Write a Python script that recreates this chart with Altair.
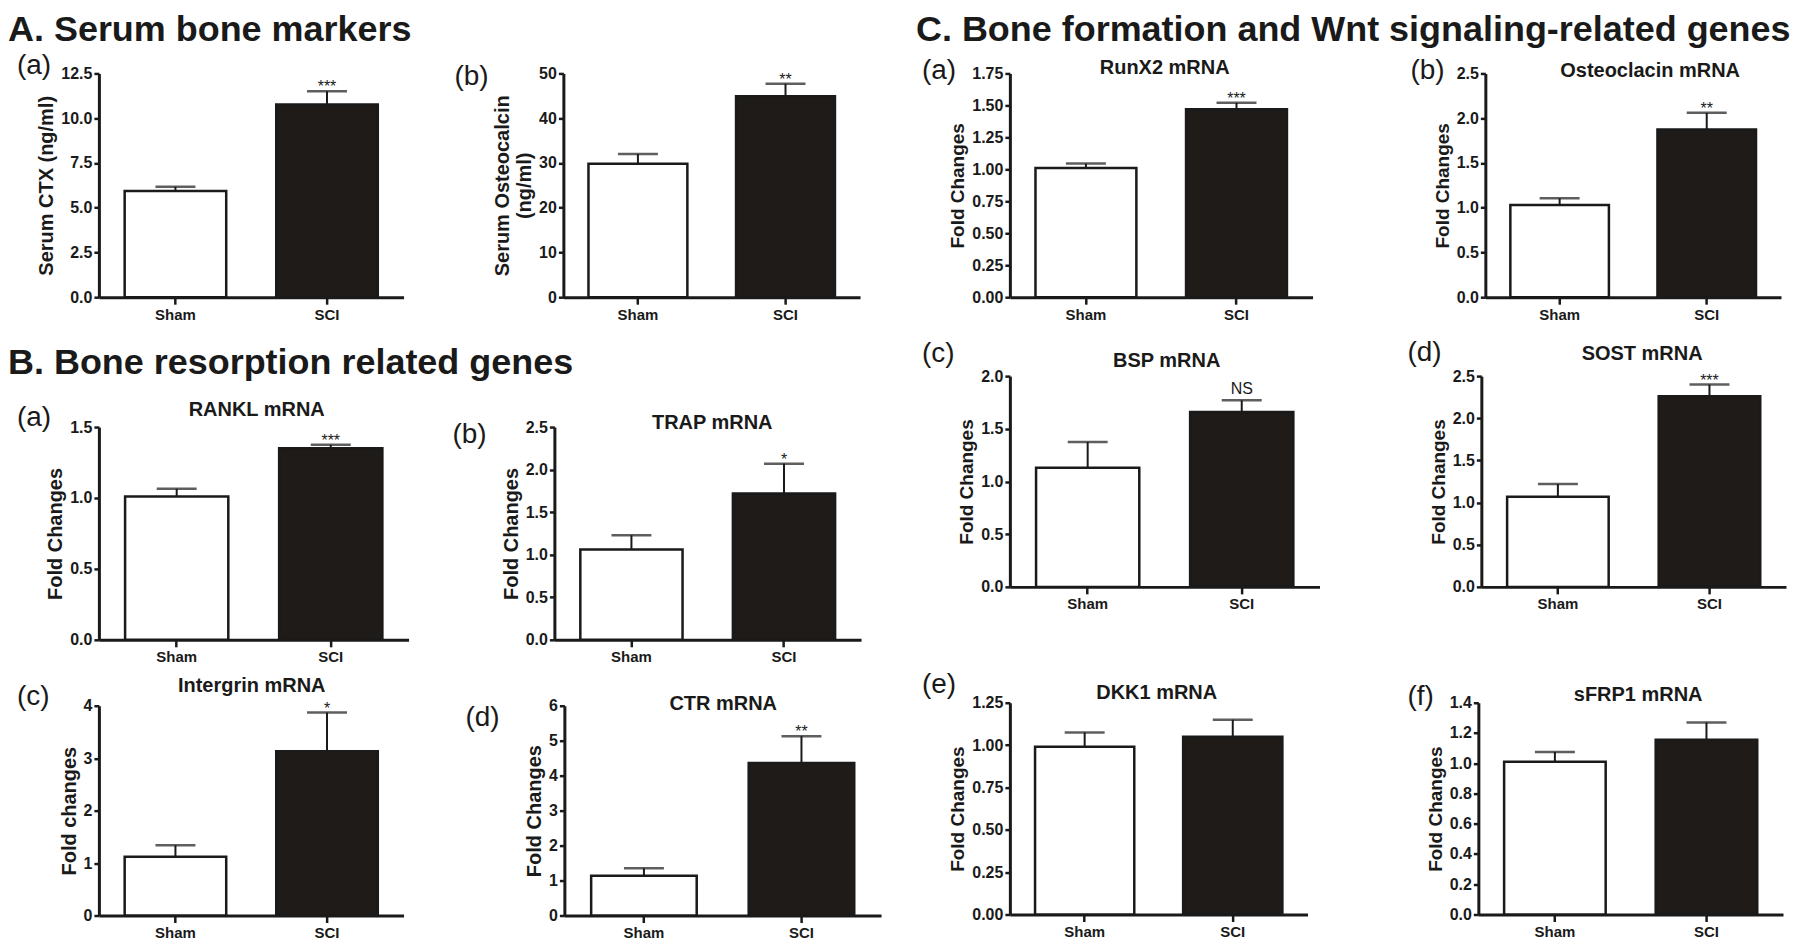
import altair as alt
import pandas as pd

# ---------------- data ----------------
groups = ["Sham", "SCI"]
panel_letters = ["(a)", "(b)", "(a)", "(b)", "(c)", "(d)",
                 "(a)", "(b)", "(c)", "(d)", "(e)", "(f)"]
gene_titles = ["", "", "RANKL mRNA", "TRAP mRNA", "Intergrin mRNA", "CTR mRNA",
               "RunX2 mRNA", "Osteoclacin mRNA", "BSP mRNA", "SOST mRNA",
               "DKK1 mRNA", "sFRP1 mRNA"]
y_titles = ["Serum  CTX (ng/ml)", ["Serum  Osteocalcin", "(ng/ml)"],
            "Fold Changes", "Fold Changes", "Fold changes", "Fold Changes",
            "Fold Changes", "Fold  Changes", "Fold Changes", "Fold Changes",
            "Fold Changes", "Fold Changes"]
sham_mean = [5.93, 29.8, 1.01, 1.06, 1.12, 1.14, 1.01, 1.03, 1.13, 1.07, 0.99, 1.01]
sham_upper = [6.17, 32.0, 1.065, 1.23, 1.34, 1.35, 1.045, 1.105, 1.375, 1.22, 1.075, 1.075]
sci_mean = [10.76, 44.9, 1.35, 1.72, 3.13, 4.36, 1.47, 1.875, 1.66, 2.26, 1.05, 1.155]
sci_upper = [11.5, 47.7, 1.375, 2.07, 3.87, 5.13, 1.52, 2.06, 1.77, 2.40, 1.15, 1.27]
significance = ["***", "**", "***", "*", "*", "**", "***", "**", "NS", "***", "", ""]
y_ticks = [
    [0, 2.5, 5, 7.5, 10, 12.5],
    [0, 10, 20, 30, 40, 50],
    [0, 0.5, 1.0, 1.5],
    [0, 0.5, 1.0, 1.5, 2.0, 2.5],
    [0, 1, 2, 3, 4],
    [0, 1, 2, 3, 4, 5, 6],
    [0, 0.25, 0.5, 0.75, 1.0, 1.25, 1.5, 1.75],
    [0, 0.5, 1.0, 1.5, 2.0, 2.5],
    [0, 0.5, 1.0, 1.5, 2.0],
    [0, 0.5, 1.0, 1.5, 2.0, 2.5],
    [0, 0.25, 0.5, 0.75, 1.0, 1.25],
    [0, 0.2, 0.4, 0.6, 0.8, 1.0, 1.2, 1.4],
]
y_formats = [".1f", "d", ".1f", ".1f", "d", "d", ".2f", ".1f", ".1f", ".1f", ".2f", ".1f"]
section_titles = ["A. Serum bone markers",
                  "B. Bone resorption related genes",
                  "C. Bone formation and Wnt signaling-related genes"]

# ---------------- layout / style (kept apart from the data) ----------------
INK = "#1a1a1a"
DARK = "#1e1b18"
FONT = "Liberation Sans"

# plot size, panel-letter offset, gene-title centre offset & baseline, axis title size
layout = [
    dict(w=305, h=224, lx=-82, ly=-7, tx=0, ty=0, ts=20),
    dict(w=297, h=224, lx=-109, ly=4, tx=0, ty=0, ts=20),
    dict(w=310, h=213, lx=-82, ly=-9, tx=158, ty=-11, ts=20),
    dict(w=307, h=213, lx=-102, ly=8, tx=158, ty=2, ts=20),
    dict(w=305, h=210, lx=-82, ly=-9, tx=153, ty=-14, ts=20),
    dict(w=317, h=210, lx=-99, ly=12, tx=159, ty=4, ts=20),
    dict(w=303, h=224, lx=-88, ly=-2, tx=155, ty=1, ts=19),
    dict(w=296, h=224, lx=-75, ly=-2, tx=165, ty=4, ts=19),
    dict(w=310, h=211, lx=-88, ly=-22, tx=157, ty=-9, ts=19),
    dict(w=305, h=211, lx=-74, ly=-23, tx=161, ty=-16, ts=19),
    dict(w=298, h=212, lx=-88, ly=-18, tx=147, ty=-4, ts=19),
    dict(w=305, h=212, lx=-71, ly=-6, tx=160, ty=-2, ts=19),
]
section_pos = {0: (0, -91, -60), 2: (1, -91, -81), 6: (2, -94, -60)}


def text_layer(text, x, y, size, weight, baseline, align="left"):
    return alt.Chart(pd.DataFrame({"t": [text]})).mark_text(
        font=FONT, fontSize=size, fontWeight=weight, color=INK,
        align=align, baseline=baseline
    ).encode(text="t:N", x=alt.value(x), y=alt.value(y))


def make_panel(i):
    L = layout[i]
    df = pd.DataFrame({
        "group": groups,
        "mean": [sham_mean[i], sci_mean[i]],
        "upper": [sham_upper[i], sci_upper[i]],
        "sig": ["", significance[i]],
    })
    xenc = alt.X("group:N", sort=groups,
                 scale=alt.Scale(domain=groups, paddingInner=0.33, paddingOuter=0.17),
                 axis=alt.Axis(title=None))
    yscale = alt.Scale(domain=[0, y_ticks[i][-1]], nice=False, zero=True)
    yaxis = alt.Axis(title=y_titles[i], values=y_ticks[i], format=y_formats[i],
                     titleLineHeight=22, titleFontSize=L["ts"])
    base = alt.Chart(df)
    bars = base.mark_bar(stroke=INK, strokeWidth=2.5).encode(
        x=xenc,
        y=alt.Y("mean:Q", scale=yscale, axis=yaxis),
        fill=alt.Fill("group:N", scale=alt.Scale(domain=groups, range=["#ffffff", DARK]),
                      legend=None),
    )
    stem = base.mark_rule(color=INK, strokeWidth=2).encode(
        x=xenc, y=alt.Y("mean:Q", scale=yscale, axis=yaxis), y2="upper:Q")
    cap = base.mark_tick(color=INK, thickness=2.5, size=40).encode(
        x=xenc, y=alt.Y("upper:Q", scale=yscale, axis=yaxis))
    stars = base.transform_filter("datum.sig != '' && datum.sig != 'NS'").mark_text(
        font=FONT, fontSize=16, color=INK, baseline="alphabetic", dy=1
    ).encode(x=xenc, y=alt.Y("upper:Q", scale=yscale, axis=yaxis), text="sig:N")
    ns = base.transform_filter("datum.sig == 'NS'").mark_text(
        font=FONT, fontSize=16, color=INK, baseline="alphabetic", dy=-6
    ).encode(x=xenc, y=alt.Y("upper:Q", scale=yscale, axis=yaxis), text="sig:N")
    layers = [bars, stem, cap, stars, ns]
    layers.append(text_layer(panel_letters[i], L["lx"], L["ly"], 28, "normal", "middle"))
    if gene_titles[i]:
        layers.append(text_layer(gene_titles[i], L["tx"], L["ty"], 20, "bold",
                                 "alphabetic", align="center"))
    if i in section_pos:
        k, sx, sy = section_pos[i]
        layers.append(text_layer(section_titles[k], sx, sy, 36, "bold", "top"))
    return alt.layer(*layers).properties(width=L["w"], height=L["h"])


p = [make_panel(i) for i in range(12)]

rowA = alt.hconcat(p[0], p[1], spacing=160, bounds="flush")
rowB1 = alt.hconcat(p[2], p[3], spacing=146, bounds="flush")
rowB2 = alt.hconcat(p[4], p[5], spacing=161, bounds="flush")
rowC1 = alt.hconcat(p[6], p[7], spacing=173, bounds="flush")
rowC2 = alt.hconcat(p[8], p[9], spacing=162, bounds="flush")
rowC3 = alt.hconcat(p[10], p[11], spacing=171, bounds="flush")

left = alt.vconcat(rowA, alt.vconcat(rowB1, rowB2, spacing=11), spacing=23)
right = alt.vconcat(alt.vconcat(rowC1, rowC2, spacing=17), rowC3, spacing=59)

chart = alt.hconcat(left, right, spacing=35).properties(
    padding={"top": 4, "left": 0, "right": 0, "bottom": 0}, background="white"
).configure_view(stroke=None).configure_axis(
    domainColor=INK, domainWidth=3, tickColor=INK, tickWidth=2.5,
    labelFont=FONT, labelFontSize=16, labelFontWeight="bold", labelColor=INK,
    titleFont=FONT, titleFontSize=19, titleFontWeight="bold", titleColor=INK,
    grid=False,
).configure_axisX(tickSize=7, labelPadding=3, labelAngle=0, labelFontSize=15).configure_axisY(
    tickSize=5, labelPadding=2, titlePadding=4)

chart.save("out.html", embed_options={"renderer": "svg", "actions": False})
